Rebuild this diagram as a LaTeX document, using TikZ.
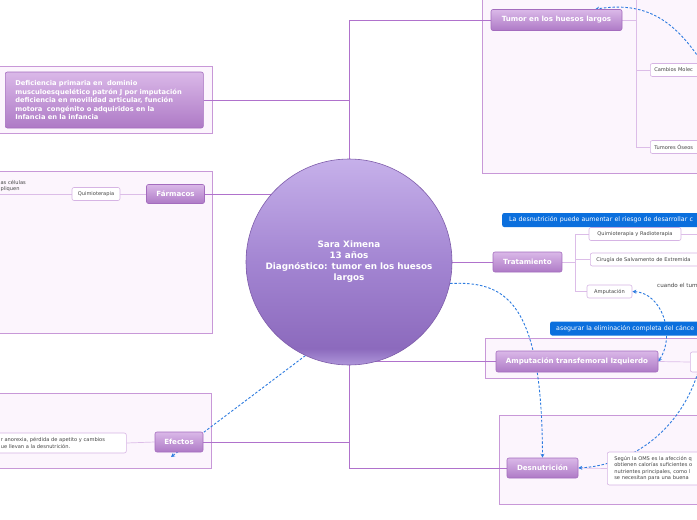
\documentclass[tikz,border=0pt]{standalone}
\usepackage{fontspec}
\setmainfont{DejaVu Sans}
\usetikzlibrary{arrows.meta,calc}
\definecolor{framefill}{HTML}{FCF5FD}
\definecolor{framedraw}{HTML}{C898D8}
\definecolor{linkc}{HTML}{B072CC}
\definecolor{sublink}{HTML}{DCBDE8}
\definecolor{topictop}{HTML}{DAB8E8}
\definecolor{topicbot}{HTML}{AE7AC6}
\definecolor{topicdraw}{HTML}{A46CBE}
\definecolor{subdraw}{HTML}{D6B4E4}
\definecolor{bluec}{HTML}{0B6FDD}
\definecolor{dashc}{HTML}{2D7BE0}
\definecolor{subtext}{HTML}{444444}
\definecolor{orbA}{HTML}{AE96DA}
\definecolor{orbB}{HTML}{8C6ABD}
\definecolor{orbC}{HTML}{A385D2}
\definecolor{orbD}{HTML}{C6B0EA}
\definecolor{orbdraw}{HTML}{7E5CAA}
\pgfdeclareverticalshading{orb}{100bp}{color(0bp)=(orbA); color(25bp)=(orbA); color(29bp)=(orbB); color(50bp)=(orbC); color(75bp)=(orbD); color(100bp)=(orbD)}
\pgfdeclarelayer{back}
\pgfdeclarelayer{mid}
\pgfsetlayers{back,mid,main}
\tikzset{
  boxframe/.style={draw=framedraw, fill=framefill, line width=0.9pt},
  topic/.style={draw=topicdraw, line width=0.6pt, rounded corners=2pt, top color=topictop, bottom color=topicbot, text=white, font=\bfseries\fontsize{7.1}{8}\selectfont, inner sep=0pt},
  subnode/.style={draw=subdraw, fill=white, rounded corners=2pt, line width=0.6pt, text=subtext, font=\fontsize{5.1}{6.5}\selectfont, inner sep=0pt, minimum height=13pt},
  banner/.style={fill=bluec, rounded corners=2pt, text=white, font=\fontsize{6.3}{7}\selectfont, inner sep=0pt, minimum height=14pt},
  mmlink/.style={draw=linkc, line width=0.8pt},
  sublinkline/.style={draw=sublink, line width=0.7pt},
  relarrow/.style={draw=dashc, dash pattern=on 2.5pt off 1.8pt, line width=0.9pt},
  tip/.style={-{Stealth[length=4pt,width=4pt]}},
}
\begin{document}
\begin{tikzpicture}[x=1pt,y=-1pt]
\useasboundingbox (0,0) rectangle (697,520);
\begin{pgfonlayer}{back}
  \fill[white] (0,0) rectangle (697,520);
  \path[boxframe] (-5,66) rectangle (212,133);
  \path[boxframe] (-5,171) rectangle (212,333);
  \path[boxframe] (-5,393) rectangle (211,468);
  \path[boxframe] (482,-10) rectangle (710,173);
  \path[boxframe] (485,338) rectangle (710,378);
  \path[boxframe] (499,415) rectangle (710,504);
\end{pgfonlayer}

% central node
\node[circle, minimum size=206pt, shading=orb, draw=orbdraw, line width=0.6pt, text=white,
      font=\bfseries\fontsize{8.8}{11}\selectfont, align=center, inner sep=0pt]
  (center) at (349,262) {Sara Ximena\\13 años\\Diagnóstico: tumor en los huesos\\largos};

% main topics
\node[topic, minimum width=131pt, minimum height=21pt] (tumor) at (556.5,20) {Tumor en los huesos largos};
\node[topic, minimum width=58pt, minimum height=19pt] (farm) at (175.5,194) {Fármacos};
\node[topic, minimum width=69pt, minimum height=20pt] (trat) at (527.5,262) {Tratamiento};
\node[topic, minimum width=162pt, minimum height=21pt] (amp) at (577,361.5) {Amputación transfemoral Izquierdo};
\node[topic, minimum width=71pt, minimum height=20pt] (desn) at (542.5,468) {Desnutrición};
\node[topic, minimum width=48pt, minimum height=20pt] (efectos) at (179,442) {Efectos};
\node[topic, anchor=west, minimum height=56pt, text width=178pt, inner xsep=10pt, align=left,
      font=\bfseries\fontsize{6.7}{8.5}\selectfont] (def) at (5,100)
  {Deficiencia primaria en\ \ dominio\\musculoesquelético patrón J por imputación\\deficiencia en movilidad articular, función\\motora\ \ congénito o adquiridos en la\\Infancia en la infancia};

% sub nodes
\node[subnode, minimum width=48pt] (quimio) at (96,194) {Quimioterapia};
\node[subnode, minimum width=92pt] (quimio2) at (635,234) {Quimioterapia y Radioterapia};
\node[subnode, anchor=west, text width=130pt, inner xsep=6pt, align=left] (cirugia) at (590,259.5) {Cirugía de Salvamento de Extremida};
\node[subnode, minimum width=45pt] (ampu) at (609.5,291.5) {Amputación};
\node[subnode, anchor=west, text width=60pt, inner xsep=4pt, align=left] (cambios) at (650,70) {Cambios Molec};
\node[subnode, anchor=west, text width=60pt, inner xsep=4pt, align=left] (tumores) at (650,147) {Tumores Óseos};
\node[subnode, anchor=west, minimum height=20pt, text width=126pt, inner xsep=4pt, align=left,
      font=\fontsize{5.1}{6.2}\selectfont] (efxt) at (-8,443)
  {\hspace*{4.5pt}r anorexia, pérdida de apetito y cambios\\\hspace*{4.5pt}ue llevan a la desnutrición.};
\node[subnode, anchor=west, minimum height=33pt, text width=120pt, inner xsep=7pt, align=left,
      font=\fontsize{5.1}{6.4}\selectfont] (desnt) at (607,468.5)
  {Según la OMS es la afección q\\obtienen calorías suficientes o\\nutrientes principales, como l\\se necesitan para una buena};
\node[subnode, anchor=west, minimum width=25pt, minimum height=20pt] (ampR) at (690,362) {};
\node[anchor=west, text=subtext, font=\fontsize{5.1}{6}\selectfont, align=left, inner sep=0pt] (cells) at (-1,186) {las células\\ipliquen};
\node[anchor=west, text=subtext, font=\fontsize{5.6}{6.5}\selectfont, inner sep=0pt] (cuando) at (657,285) {cuando el tum};

% banners
\node[banner, anchor=west, text width=210pt, inner xsep=7pt, align=left] (ban1) at (502,220) {La desnutrición puede aumentar el riesgo de desarrollar c};
\node[banner, anchor=west, text width=170pt, inner xsep=6pt, align=left] (ban2) at (550,328.5) {asegurar la eliminación completa del cánce};

% helper coordinates
\coordinate (tb) at (636,20);
\coordinate (ttop) at (636,-10);
\coordinate (tr) at (575,262);
\coordinate (qr) at (700,234);
\coordinate (qleft) at (-2,194);
\coordinate (efarr) at (171,457);
\coordinate (tumarr) at (699,58);

\begin{pgfonlayer}{mid}
  % main links
  \draw[mmlink] (center.north) |- (tumor.west);
  \draw[mmlink] (def.east) -- (def.east -| center.north);
  \draw[mmlink] (farm.east) -- (farm.east -| center.center);
  \draw[mmlink] (trat.west) -- (trat.west -| center.center);
  \draw[mmlink] (amp.west) -- (amp.west -| center.south);
  \draw[mmlink] (center.south) |- (desn.west);
  \draw[mmlink] (efectos.east) -- (efectos.east -| center.south);
  % sub links
  \draw[sublinkline] (tumor.east) -- (tb);
  \draw[sublinkline] (ttop) -- (tb);
  \draw[sublinkline] (tb) |- (cambios.west);
  \draw[sublinkline] (tb) |- (tumores.west);
  \draw[sublinkline] (trat.east) -- (tr);
  \draw[sublinkline] (tr) |- (quimio2.west);
  \draw[sublinkline] (tr) |- (cirugia.west);
  \draw[sublinkline] (tr) |- (ampu.west);
  \draw[sublinkline] (quimio2.east) -- (qr);
  \draw[sublinkline] (quimio.east) -- (farm.west);
  \draw[sublinkline] (qleft) -- (quimio.west);
  \draw[sublinkline] (efxt.east) -- (efectos.west);
  \draw[sublinkline] (amp.east) -- (ampR.west);
  \draw[sublinkline] (desnt.west) -- (desn.east);
  % relationships
  \draw[relarrow, tip] (center.245) -- (efarr);
  \draw[relarrow, tip] (center.-12) .. controls (505,281) and (542,300) .. (desn.north);
  \draw[relarrow, tip] ($(ampR.south west)+(8,0)$) .. controls (680,430) and (632,465) .. (desn.east);
  \draw[relarrow, {Stealth[length=4pt,width=4pt]}-{Stealth[length=4pt,width=4pt]}] (ampu.east) .. controls (662,293) and (676,335) .. (amp.east);
  \draw[relarrow, tip] (tumarr) .. controls (670,15) and (640,2) .. ($(tumor.north east)+(-27,0)$);
\end{pgfonlayer}
\end{tikzpicture}
\end{document}
